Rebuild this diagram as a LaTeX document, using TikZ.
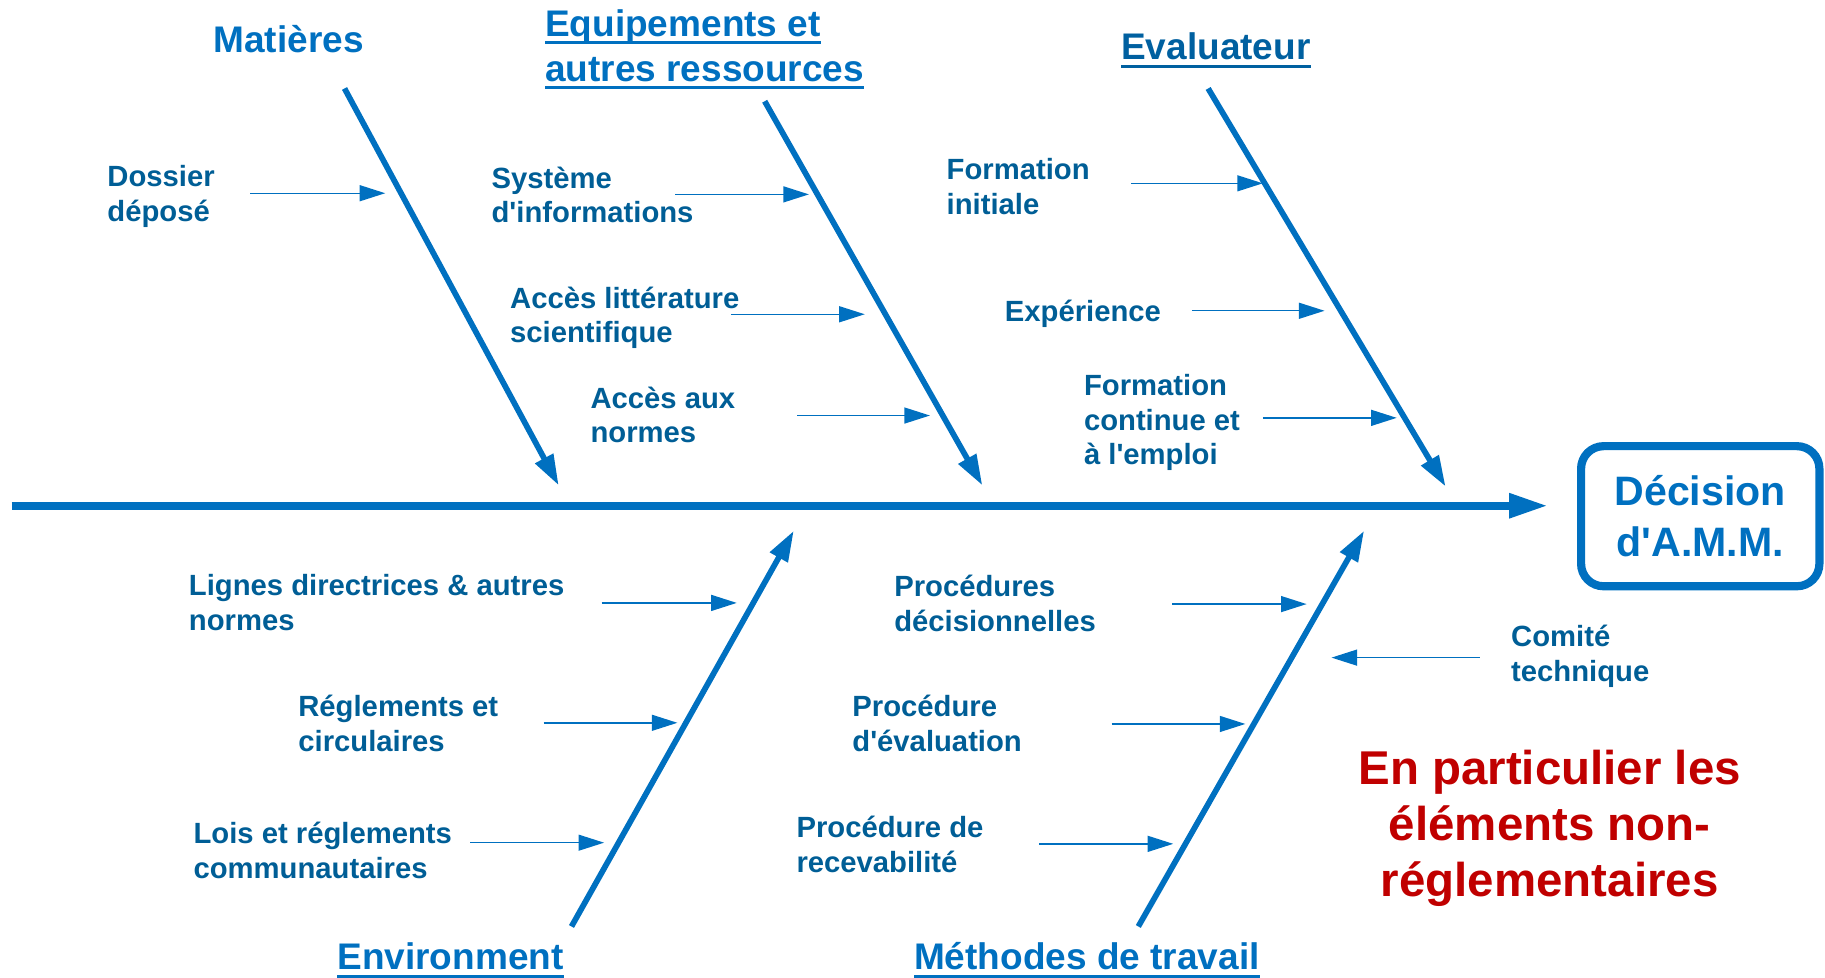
\documentclass[tikz,border=0pt]{standalone}
\usepackage{fontspec}
\setmainfont{Liberation Sans}[Ligatures=TeXOff]
\usetikzlibrary{arrows.meta}
\definecolor{bl}{RGB}{0,112,192}
\definecolor{labc}{RGB}{0,94,150}
\definecolor{tdark}{RGB}{0,96,160}
\definecolor{rd}{RGB}{192,0,0}
\newcommand\myul[1]{\setbox0=\hbox{#1}\rlap{\rule[-3.9pt]{\wd0}{1.6pt}}\box0}
\begin{document}
\begin{tikzpicture}[x=0.02cm,y=-0.02cm,
  lbl/.style={font=\fontsize{14.3}{17}\selectfont\bfseries, text=labc, align=left, anchor=base west, inner sep=0pt},
  ttl/.style={font=\fontsize{18.1}{21.9}\selectfont\bfseries, text=bl, align=left, anchor=base west, inner sep=0pt},
  spine/.style={draw=bl, line width=4pt, -{Triangle[length=19pt,width=11.3pt]}},
  bone/.style={draw=bl, line width=2.8pt, -{Triangle[length=15pt,width=9.5pt]}},
  sub/.style={draw=bl, line width=0.7pt, -{Triangle[length=12.5pt,width=7.8pt]}},
  decbox/.style={draw=bl, line width=4pt, rounded corners=11pt, minimum width=4.096cm, minimum height=2.408cm, inner sep=0pt, text=bl, align=center, font=\fontsize{20.1}{25}\selectfont\bfseries},
  redtxt/.style={font=\fontsize{23.2}{27.4}\selectfont\bfseries, text=rd, align=center, anchor=base, inner sep=0pt}
]
\useasboundingbox (0,0) rectangle (1568,840);

% spine and decision box
\coordinate (s0) at (10,434.5);
\coordinate (s1) at (1330,434.5);
\draw[spine] (s0) -- (s1);
\node[decbox] (dec) at (1460.8,443.5) {Décision\\d'A.M.M.};

% bones
\coordinate (mA) at (296,76);   \coordinate (mB) at (480,417);
\coordinate (eA) at (657,87);   \coordinate (eB) at (844,417);
\coordinate (vA) at (1038,76);  \coordinate (vB) at (1242,418);
\coordinate (nA) at (491,796);  \coordinate (nB) at (682,456);
\coordinate (tA) at (978,796);  \coordinate (tB) at (1172,456);
\draw[bone] (mA) -- (mB);
\draw[bone] (eA) -- (eB);
\draw[bone] (vA) -- (vB);
\draw[bone] (nA) -- (nB);
\draw[bone] (tA) -- (tB);

% titles (base anchor = baseline of last line)
\node[ttl, anchor=base] (tM) at (248,45.5) {Matières};
\node[ttl] (tE) at (468,69.6) {\myul{Equipements et}\\\myul{autres ressources}};
\node[ttl, text=tdark] (tV) at (963,51.5) {\myul{Evaluateur}};
\node[ttl] (tN) at (289.5,833.3) {\myul{Environment}};
\node[ttl] (tT) at (785,833.3) {\myul{Méthodes de travail}};

% labels (base anchor = baseline of last line)
\node[lbl] (l1) at (92,190.5) {Dossier\\déposé};
\node[lbl] (l2) at (422,191.5) {Système\\d'informations};
\node[lbl] (l3) at (438,294.5) {Accès littérature\\scientifique};
\node[lbl] (l4) at (507,380.5) {Accès aux\\normes};
\node[lbl] (l5) at (813,184.5) {Formation\\initiale};
\node[lbl] (l6) at (863,276.5) {Expérience};
\node[lbl] (l7) at (931,399.5) {Formation\\continue et\\à l'emploi};
\node[lbl] (l8) at (162,541.5) {Lignes directrices \& autres\\normes};
\node[lbl] (l9) at (256,645.5) {Réglements et\\circulaires};
\node[lbl] (l10) at (166,754.5) {Lois et réglements\\communautaires};
\node[lbl] (l11) at (768,542.5) {Procédures\\décisionnelles};
\node[lbl] (l12) at (732,645.5) {Procédure\\d'évaluation};
\node[lbl] (l13) at (684,749.5) {Procédure de\\recevabilité};
\node[lbl] (l14) at (1298,585.5) {Comité\\technique};

% small arrows
\coordinate (a1s) at (215,166);    \coordinate (a1e) at (331,166);
\coordinate (a2s) at (580,167);    \coordinate (a2e) at (695,167);
\coordinate (a3s) at (628,270);    \coordinate (a3e) at (743,270);
\coordinate (a4s) at (685,357);    \coordinate (a4e) at (799,357);
\coordinate (a5s) at (972,157.5);  \coordinate (a5e) at (1085,157.5);
\coordinate (a6s) at (1024,267);   \coordinate (a6e) at (1138,267);
\coordinate (a7s) at (1085,359);   \coordinate (a7e) at (1200,359);
\coordinate (a8s) at (517,518);    \coordinate (a8e) at (633,518);
\coordinate (a9s) at (467,621);    \coordinate (a9e) at (582,621);
\coordinate (a10s) at (404,724);   \coordinate (a10e) at (519,724);
\coordinate (a11s) at (1007,519);  \coordinate (a11e) at (1122.6,519);
\coordinate (a12s) at (955,622);   \coordinate (a12e) at (1070,622);
\coordinate (a13s) at (893,725);   \coordinate (a13e) at (1008,725);
\coordinate (a14s) at (1271.5,565); \coordinate (a14e) at (1144,565);
\foreach \i in {1,...,14} \draw[sub] (a\i s) -- (a\i e);

% red note
\node[redtxt] (note) at (1331.5,770.2) {En particulier les\\éléments non-\\réglementaires};
\end{tikzpicture}
\end{document}
